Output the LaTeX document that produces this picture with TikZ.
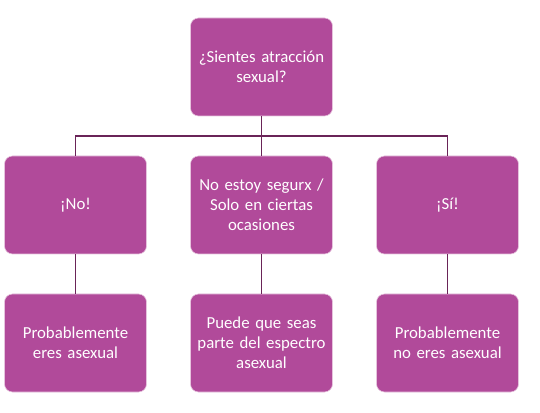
\documentclass[tikz,border=0pt]{standalone}
\usepackage{fontspec}
\setmainfont{Carlito}
\definecolor{boxfill}{HTML}{B14A9A}
\definecolor{boxedge}{HTML}{E6C3DD}
\definecolor{linkc}{HTML}{6A2458}
\begin{document}
\begin{tikzpicture}[x=1pt,y=1pt,
  box/.style={draw=boxedge, line width=0.6pt, fill=boxfill, rounded corners=8pt,
    minimum width=142pt, minimum height=98pt, text width=136pt, align=center,
    text=white, font=\fontsize{16.8}{20}\selectfont, inner sep=0pt},
  link/.style={draw=linkc, line width=1.8pt}]
\useasboundingbox (0,0) rectangle (540,412);
\node[box] (q) at (261.5,345) {¿Sientes atracción\\sexual?};
\node[box] (no) at (75.5,207) {¡No!};
\node[box] (mid) at (261.5,207) {No estoy segurx /\\Solo en ciertas\\ocasiones};
\node[box] (si) at (447.5,207) {¡Sí!};
\node[box] (rno) at (75.5,69) {Probablemente\\eres asexual};
\node[box] (rmid) at (261.5,69) {Puede que seas\\parte del espectro\\asexual};
\node[box] (rsi) at (447.5,69) {Probablemente\\no eres asexual};
\coordinate (bus) at (261.5,276);
\draw[link] (q.south) -- (bus);
\draw[link] (no.north) |- (bus) -| (si.north);
\draw[link] (bus) -- (mid.north);
\draw[link] (no.south) -- (rno.north);
\draw[link] (mid.south) -- (rmid.north);
\draw[link] (si.south) -- (rsi.north);
\end{tikzpicture}
\end{document}
